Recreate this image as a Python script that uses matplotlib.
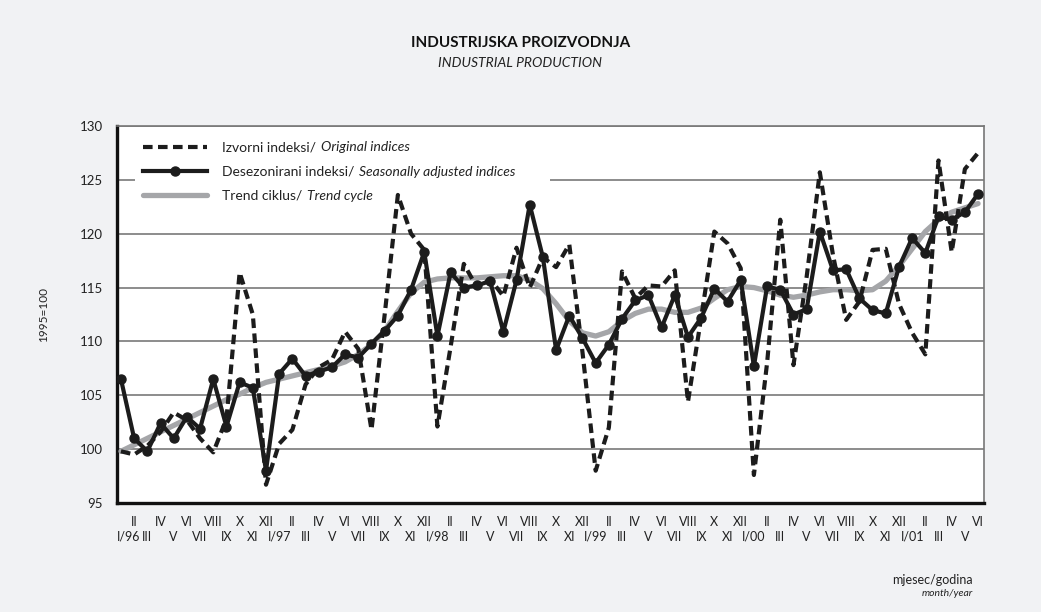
import matplotlib
matplotlib.use("Agg")
import matplotlib.pyplot as plt
from matplotlib.transforms import blended_transform_factory, ScaledTranslation
from matplotlib.patches import Rectangle
from matplotlib.ticker import FixedLocator, FixedFormatter
import numpy as np

plt.rcParams['font.family'] = ['Lato', 'DejaVu Sans']

# ---- data -----------------------------------------------------------
roman = ["I", "II", "III", "IV", "V", "VI", "VII", "VIII", "IX", "X", "XI", "XII"]
years = ["96", "97", "98", "99", "00", "01"]
months = [f"{m}/{y}" if m == "I" else m for y in years for m in roman][:66]

original = [99.8, 99.5, 100.3, 101.6, 103.4, 102.7, 101.0, 99.7, 102.8, 116.4, 112.5, 96.7,
            100.5, 101.8, 106.0, 107.6, 108.3, 110.9, 109.3, 101.8, 112.5, 123.6, 120.0, 118.5,
            102.1, 109.5, 117.2, 115.0, 115.8, 114.2, 118.7, 115.0, 117.8, 116.9, 119.0, 109.0,
            98.0, 102.0, 116.5, 114.0, 115.2, 115.1, 116.6, 104.4, 112.2, 120.2, 119.1, 116.8,
            97.6, 108.0, 121.3, 107.8, 116.0, 125.7, 118.0, 112.0, 113.7, 118.5, 118.6, 113.5,
            110.8, 108.8, 126.8, 118.3, 126.0, 127.5]

seasonal = [106.5, 101.0, 99.8, 102.4, 101.0, 103.0, 101.9, 106.5, 102.1, 106.2, 105.7, 98.0,
            107.0, 108.4, 106.8, 107.2, 107.6, 108.8, 108.5, 109.8, 111.0, 112.4, 114.8, 118.3,
            110.5, 116.4, 115.0, 115.2, 115.6, 110.9, 115.7, 122.7, 117.8, 109.2, 112.4, 110.3,
            108.0, 109.7, 112.1, 113.8, 114.3, 111.3, 114.3, 110.4, 112.2, 114.9, 113.7, 115.7,
            107.7, 115.1, 114.8, 112.5, 113.0, 120.2, 116.6, 116.7, 114.0, 112.9, 112.6, 116.9,
            119.6, 118.2, 121.6, 121.3, 122.0, 123.7]

trend = [99.8, 100.4, 101.0, 101.6, 102.2, 102.8, 103.4, 104.0, 104.6, 105.1, 105.7, 106.2,
         106.5, 106.8, 107.1, 107.4, 107.7, 108.1, 108.8, 109.7, 111.0, 112.8, 114.5, 115.5,
         115.8, 115.9, 115.9, 115.9, 116.0, 116.1, 116.1, 115.7, 114.9, 113.5, 111.9, 110.8,
         110.5, 110.9, 111.9, 112.6, 113.0, 113.0, 112.7, 112.7, 113.1, 114.0, 114.8, 115.1,
         115.0, 114.7, 114.3, 114.1, 114.3, 114.6, 114.8, 114.8, 114.7, 114.8, 115.6, 117.0,
         118.6, 120.2, 121.3, 122.0, 122.4, 122.8]

yticks = [95, 100, 105, 110, 115, 120, 125, 130]

# ---- figure ---------------------------------------------------------
BG = "#f1f2f4"
fig = plt.figure(figsize=(10.41, 6.12), dpi=100, facecolor=BG)
ax = fig.add_axes([117/1041, 1-503/612, (984-117)/1041, (503-126)/612])
ax.set_facecolor("white")

x = np.arange(len(months))
ax.plot(x, trend, color="#a5a6a9", lw=3.8, zorder=3, solid_capstyle="round",
        label="Trend ciklus/")
ax.plot(x, original, color="#1c1c1c", lw=3.0, ls=(0, (2.3, 1.3)), zorder=4,
        label="Izvorni indeksi/")
ax.plot(x, seasonal, color="#1c1c1c", lw=3.0, marker="o", ms=6.5, zorder=5,
        label="Desezonirani indeksi/")

ax.set_xlim(-0.3, 65.45)
ax.set_ylim(95, 130)
ax.set_yticks(yticks)
ax.set_yticklabels([str(v) for v in yticks])
ax.yaxis.grid(True, color="#6e6e6e", lw=1.1)
ax.set_axisbelow(True)

# white box behind legend (hides the grid line)
tr = blended_transform_factory(ax.transAxes, ax.transData)
ax.add_patch(Rectangle((0.021, 123.2), 0.478, 6.7, transform=tr, facecolor="white",
                       edgecolor="none", zorder=1))

# two rows of month labels: even months (II, IV, ...) upper row, odd months lower row
upper = [i for i in x if i % 2 == 1]
lower = [i for i in x if i % 2 == 0]
ax.xaxis.set_major_locator(FixedLocator(upper))
ax.xaxis.set_major_formatter(FixedFormatter([months[i] for i in upper]))
ax.xaxis.set_minor_locator(FixedLocator(lower))
ax.xaxis.set_minor_formatter(FixedFormatter([months[i] for i in lower]))

ax.tick_params(axis="x", which="major", length=0, pad=9, labelsize=9, labelcolor="#222222")
ax.tick_params(axis="x", which="minor", length=0, pad=20, labelsize=9, labelcolor="#222222")
ax.tick_params(axis="y", length=0, pad=10, labelsize=9.5, labelcolor="#222222")

for side in ["left", "bottom"]:
    ax.spines[side].set_linewidth(2.4)
    ax.spines[side].set_color("#111111")
for side in ["top", "right"]:
    ax.spines[side].set_linewidth(1.2)
    ax.spines[side].set_color("#777777")

ax.set_ylabel("1995=100", fontsize=8.5, color="#222222")
ax.yaxis.set_label_coords(-0.078, 0.5)

# legend
handles, labels = ax.get_legend_handles_labels()
order = [1, 2, 0]
leg = ax.legend([handles[i] for i in order], [labels[i] for i in order],
                loc="upper left", bbox_to_anchor=(0.030, 0.959), frameon=False,
                fontsize=10, handlelength=4.6, handletextpad=1.1, labelspacing=0.87,
                borderpad=0, borderaxespad=0, numpoints=1)
leg.set_zorder(8)
for t in leg.get_texts():
    t.set_color("#222222")

fig.canvas.draw()

# shift the first month label a bit right (as in the reference)
first = ax.xaxis.get_minor_ticks()[0].label1
first.set_transform(first.get_transform() + ScaledTranslation(8/100, 0, fig.dpi_scale_trans))

italics = ["Original indices", "Seasonally adjusted indices", "Trend cycle"]
for t, it in zip(leg.get_texts(), italics):
    ax.annotate(it, xy=(1, 0), xycoords=t, xytext=(3.5, 0), textcoords="offset points",
                ha="left", va="bottom", fontsize=10, style="italic", color="#222222",
                annotation_clip=False, zorder=9)

# titles
fig.text(0.5, 1-43/612, "INDUSTRIJSKA PROIZVODNJA", ha="center", va="center",
         fontsize=11, fontweight="bold", color="#111111")
fig.text(0.5, 1-63/612, "INDUSTRIAL PRODUCTION", ha="center", va="center",
         fontsize=10, style="italic", color="#222222")

fig.text(973/1041, 1-580/612, "mjesec/godina", ha="right", va="center",
         fontsize=9, color="#222222")
fig.text(973/1041, 1-594/612, "month/year", ha="right", va="center",
         fontsize=7.5, style="italic", color="#222222")

fig.savefig("out.png", dpi=100, facecolor=BG)
